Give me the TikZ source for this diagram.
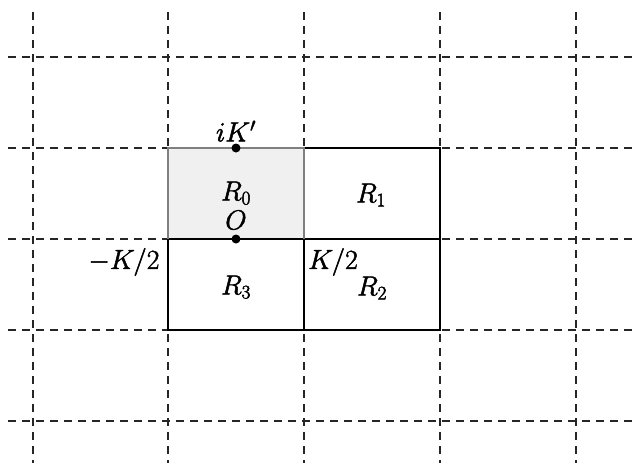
\RequirePackage{fix-cm}
\documentclass[tikz,border=0pt]{standalone}
\newcommand{\heavy}[1]{\special{pdf:literal direct 2 Tr 0.5 w}#1\special{pdf:literal direct 0 Tr}}
\begin{document}
\begin{tikzpicture}[x=1pt,y=-1pt,
  gridline/.style={black!85,line width=1.2pt,dash pattern=on 8pt off 6pt},
  cell/.style={draw=black,line width=1.6pt},
  lbl/.style={inner sep=0pt,font=\fontsize{27.5}{32}\selectfont},
  pt/.style={circle,fill=black,inner sep=0pt,minimum size=9pt}]
\useasboundingbox (0,0) rectangle (634,463);
% shaded region
\fill[black!6] (168,148) rectangle (304,239);
% grid
\foreach \x in {33,168,304,440,576} \draw[gridline] (\x,12) -- (\x,463);
\foreach \y in {57,148,239,330,421} \draw[gridline] (8,\y) -- (634,\y);
% cells
\draw[cell] (304,148) rectangle (440,239);
\draw[cell] (304,239) rectangle (440,330);
\draw[cell] (168,239) rectangle (304,330);
\draw[black!50,line width=1.6pt] (168,239) -- (168,148) -- (304,148) -- (304,239);
% points
\node[pt] (ik) at (236,148) {};
\node[pt] (o) at (236,239) {};
% labels
\node[lbl] (lik) at (236,131) {\heavy{$iK'$}};
\node[lbl] (r0) at (236,193) {\heavy{$R_0$}};
\node[lbl] (lo) at (236,220) {\heavy{$O$}};
\node[lbl] (r1) at (371,195) {\heavy{$R_1$}};
\node[lbl] (r3) at (236,287) {\heavy{$R_3$}};
\node[lbl] (r2) at (372,288) {\heavy{$R_2$}};
\node[lbl] (kp) at (333,262) {\heavy{$K/2$}};
\node[lbl] (km) at (124,262) {\heavy{$-K/2$}};
\end{tikzpicture}
\end{document}
